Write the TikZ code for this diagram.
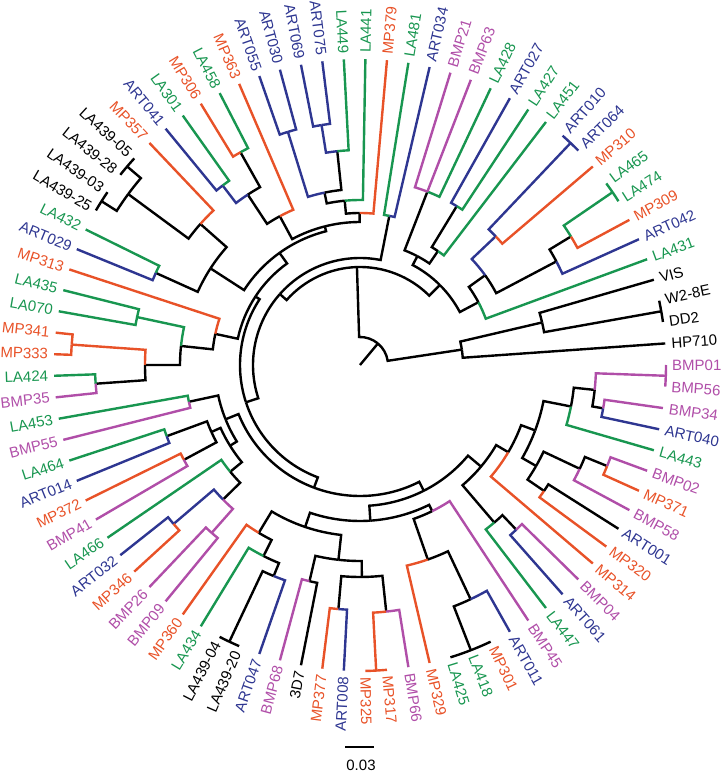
\documentclass[tikz,border=0pt]{standalone}
\usepackage{fontspec}
\setmainfont{Liberation Sans}
\usepackage{tikz}
\usetikzlibrary{positioning}

\definecolor{grn}{RGB}{24,150,80}
\definecolor{org}{RGB}{232,82,40}
\definecolor{blu}{RGB}{46,54,145}
\definecolor{pur}{RGB}{176,78,168}

% branch: [colour]{node radius}{node angle}{child angle}{child radius}
\newcommand\br[5][black]{\draw[#1] (#3:#2 pt) arc[start angle=#3, end angle=#4, radius=#2 pt] -- (#4:#5 pt);}
% bar joining identical tips
\newcommand\tie[3][black]{\draw[#1] (#2:306pt) arc[start angle=#2, end angle=#3, radius=306pt];}

\tikzset{
  lab/.style={font=\fontsize{15}{17}\selectfont, inner sep=1pt},
  tree/.style={line width=2.4pt}
}

\begin{document}
\begin{tikzpicture}[x=1pt, y=1pt]
    \useasboundingbox (-360,-414) rectangle (362,365);

    % Tip labels
    \foreach \i/\nm/\cl in {0/BMP01/pur, 1/HP710/black, 2/DD2/black, 3/W2-8E/black, 4/VIS/black,
        5/LA431/grn, 6/ART042/blu, 7/MP309/org, 8/LA474/grn, 9/LA465/grn, 10/MP310/org,
        11/ART064/blu, 12/ART010/blu, 13/LA451/grn, 14/LA427/grn, 15/ART027/blu, 16/LA428/grn,
        17/BMP63/pur, 18/BMP21/pur, 19/ART034/blu, 20/LA481/grn, 21/MP379/org, 22/LA441/grn,
        23/LA449/grn, 24/ART075/blu, 25/ART069/blu, 26/ART030/blu, 27/ART055/blu, 28/MP363/org,
        29/LA458/grn, 30/MP306/org, 31/LA301/grn, 32/ART041/blu, 33/MP357/org, 34/LA439-05/black,
        35/LA439-28/black, 36/LA439-03/black, 37/LA439-25/black, 38/LA432/grn, 39/ART029/blu,
        40/MP313/org, 41/LA435/grn, 42/LA070/grn, 43/MP341/org, 44/MP333/org, 45/LA424/grn,
        46/BMP35/pur, 47/LA453/grn, 48/BMP55/pur, 49/LA464/grn, 50/ART014/blu, 51/MP372/org,
        52/BMP41/pur, 53/LA466/grn, 54/ART032/blu, 55/MP346/org, 56/BMP26/pur, 57/BMP09/pur,
        58/MP360/org, 59/LA434/grn, 60/LA439-04/black, 61/LA439-20/black, 62/ART047/blu,
        63/BMP68/pur, 64/3D7/black, 65/MP377/org, 66/ART008/blu, 67/MP325/org, 68/MP317/org,
        69/BMP66/pur, 70/MP329/org, 71/LA425/grn, 72/LA418/grn, 73/MP301/org, 74/ART011/blu,
        75/BMP45/pur, 76/LA447/grn, 77/ART061/blu, 78/BMP04/pur, 79/MP314/org, 80/MP320/org,
        81/ART001/blu, 82/BMP58/pur, 83/MP371/org, 84/BMP02/pur, 85/LA443/grn, 86/ART040/blu,
        87/BMP34/pur, 88/BMP56/pur} {
        \pgfmathsetmacro\ang{\i*4.0449}
        \pgfmathtruncatemacro\flip{(\ang>90)&&(\ang<270)}
        \ifnum\flip=1
            \node[lab, text=\cl, rotate=\ang-180, anchor=east] (\nm) at (\ang:311pt) {\nm};
        \else
            \node[lab, text=\cl, rotate=\ang, anchor=west] (\nm) at (\ang:311pt) {\nm};
        \fi
    }

    \begin{scope}[tree]
    % Root
    \draw (0,0) -- (50.2:28pt);
    \br{28}{50.2}{8.6}{103}
    \br{28}{50.2}{91.78}{98}
    % HP710, VIS, W2-8E, DD2
    \br{103}{8.6}{4.04}{306}
    \br{103}{8.6}{13.15}{187}
    \br{187}{13.15}{16.18}{306}
    \br{187}{13.15}{10.11}{306}
    \tie{8.09}{12.13}
    % Main split
    \br{98}{91.78}{45.07}{113}
    \br{98}{91.78}{138.49}{107}
    % Upper right clade
    \br{113}{45.07}{27.94}{134}
    \br{113}{45.07}{62.19}{123}
    \br[grn]{134}{27.94}{20.22}{306}
    \br{134}{27.94}{35.65}{154}
    \br{154}{35.65}{27.81}{222}
    \br[blu]{154}{35.65}{43.48}{187}
    \br[blu]{222}{27.81}{24.27}{306}
    \br{222}{27.81}{31.35}{247}
    \br[org]{247}{31.35}{28.31}{306}
    \br[grn]{247}{31.35}{34.38}{306}
    \tie[grn]{32.36}{36.40}
    \br[org]{187}{43.48}{40.45}{306}
    \br[blu]{187}{43.48}{46.51}{306}
    \tie[blu]{44.49}{48.54}
    \br{123}{62.19}{55.62}{138}
    \br{123}{62.19}{68.76}{186}
    \br[grn]{138}{55.62}{52.58}{306}
    \br{138}{55.62}{58.65}{186}
    \br[grn]{186}{58.65}{56.63}{306}
    \br[blu]{186}{58.65}{60.67}{306}
    \br[grn]{186}{68.76}{64.72}{306}
    \br[pur]{186}{68.76}{68.76}{306}
    \br[pur]{186}{68.76}{72.81}{306}
    % Large clade
    \br{107}{138.49}{78.88}{152}
    \br{107}{138.49}{198.1}{120}
    \br[blu]{152}{78.88}{76.85}{306}
    \br[grn]{152}{78.88}{80.90}{306}
    \br{120}{198.1}{146.77}{125}
    \br{120}{198.1}{249.44}{131}
    \br{125}{146.77}{125.68}{138}
    \br{125}{146.77}{167.87}{148}
    \br{138}{125.68}{104.22}{143}
    \br{138}{125.68}{147.13}{178}
    % Top ladder
    \br{143}{104.22}{90.13}{152}
    \br{143}{104.22}{118.32}{169}
    \br[org]{152}{90.13}{84.94}{306}
    \br{152}{90.13}{95.31}{165}
    \br[grn]{165}{95.31}{88.99}{306}
    \br{165}{95.31}{101.63}{176}
    \br{176}{101.63}{96.07}{215}
    \br[blu]{176}{101.63}{107.19}{244}
    \br[grn]{215}{96.07}{93.03}{306}
    \br[blu]{215}{96.07}{99.10}{243}
    \br[blu]{243}{99.10}{97.08}{306}
    \br[blu]{243}{99.10}{101.12}{306}
    \br[blu]{244}{107.19}{105.17}{306}
    \br[blu]{244}{107.19}{109.21}{306}
    \br[org]{169}{118.32}{113.26}{306}
    \br{169}{118.32}{123.37}{204}
    \br{204}{123.37}{119.33}{244}
    \br[blu]{204}{123.37}{127.42}{226}
    \br[grn]{244}{119.33}{117.30}{306}
    \br[org]{244}{119.33}{121.35}{306}
    \br[grn]{226}{127.42}{125.39}{306}
    \br[blu]{226}{127.42}{129.44}{306}
    % Upper left
    \br{178}{147.13}{138.54}{213}
    \br{178}{147.13}{155.73}{224}
    \br[org]{213}{138.54}{133.48}{306}
    \br{213}{138.54}{143.60}{288}
    \br{288}{143.60}{139.55}{306}
    \tie{137.53}{141.57}
    \br{288}{143.60}{147.64}{306}
    \tie{145.62}{149.66}
    \br[grn]{224}{155.73}{153.71}{306}
    \br[blu]{224}{155.73}{157.75}{306}
    % Left
    \br[org]{148}{167.87}{161.80}{306}
    \br{148}{167.87}{173.93}{180}
    \br[grn]{180}{173.93}{167.87}{228}
    \br{180}{173.93}{180}{215}
    \br[grn]{228}{167.87}{165.84}{306}
    \br[grn]{228}{167.87}{169.89}{306}
    \br[org]{215}{180}{175.95}{289}
    \br{215}{180}{184.05}{265}
    \br[org]{289}{175.95}{173.93}{306}
    \br[org]{289}{175.95}{177.98}{306}
    \br[grn]{265}{184.05}{182.02}{306}
    \br[pur]{265}{184.05}{186.07}{306}
    % Lower left
    \br{131}{249.44}{201.99}{145}
    \br{131}{249.44}{296.9}{141}
    \br{145}{201.99}{192.13}{175}
    \br{145}{201.99}{211.85}{153}
    \br[grn]{175}{192.13}{190.11}{306}
    \br[pur]{175}{192.13}{194.16}{306}
    \br{153}{211.85}{204.27}{163}
    \br{153}{211.85}{219.44}{168}
    \br{163}{204.27}{200.22}{206}
    \br{163}{204.27}{208.31}{200}
    \br[grn]{206}{200.22}{198.20}{306}
    \br[blu]{206}{200.22}{202.25}{306}
    \br[org]{200}{208.31}{206.29}{306}
    \br[pur]{200}{208.31}{210.34}{306}
    \br[grn]{168}{219.44}{214.38}{306}
    \br{168}{219.44}{224.49}{192}
    \br[blu]{192}{224.49}{220.45}{245}
    \br[pur]{192}{224.49}{228.54}{224}
    \br[blu]{245}{220.45}{218.43}{306}
    \br[org]{245}{220.45}{222.47}{306}
    \br[pur]{224}{228.54}{226.52}{306}
    \br[pur]{224}{228.54}{230.56}{306}
    % Bottom
    \br{141}{296.9}{273.8}{156}
    \br{141}{296.9}{319.99}{158}
    \br{156}{273.8}{251.29}{171}
    \br{156}{273.8}{296.3}{163}
    \br{171}{251.29}{238.9}{196}
    \br{171}{251.29}{263.68}{196}
    \br[org]{196}{238.9}{234.61}{306}
    \br{196}{238.9}{243.2}{214}
    \br[grn]{214}{243.2}{238.65}{306}
    \br{214}{243.2}{247.75}{228}
    \br{228}{247.75}{244.72}{306}
    \tie{242.70}{246.74}
    \br[blu]{228}{247.75}{250.79}{306}
    \br{196}{263.68}{256.85}{222}
    \br{196}{263.68}{270.5}{212}
    \br[pur]{222}{256.85}{254.83}{306}
    \br{222}{256.85}{258.88}{306}
    \br{212}{270.5}{264.94}{245}
    \br{212}{270.5}{276.07}{248}
    \br[org]{245}{264.94}{262.92}{306}
    \br[blu]{245}{264.94}{266.97}{306}
    \br[org]{248}{276.07}{273.03}{306}
    \tie[org]{271.01}{275.06}
    \br[pur]{248}{276.07}{279.10}{306}
    \br{163}{296.3}{289.22}{206}
    \br[pur]{163}{296.3}{303.37}{306}
    \br[org]{206}{289.22}{283.15}{306}
    \br{206}{289.22}{295.28}{259}
    \br{259}{295.28}{291.24}{306}
    \tie{287.19}{295.28}
    \br[blu]{259}{295.28}{299.33}{306}
    % Lower right
    \br{158}{319.99}{310.45}{207}
    \br{158}{319.99}{329.54}{172}
    \br[grn]{207}{310.45}{307.42}{306}
    \br{207}{310.45}{313.49}{227}
    \br[blu]{227}{313.49}{311.46}{306}
    \br[pur]{227}{313.49}{315.51}{306}
    \br[org]{172}{329.54}{319.55}{306}
    \br{172}{329.54}{339.52}{187}
    \br{187}{339.52}{330.17}{203}
    \br{187}{339.52}{348.88}{215}
    \br{203}{330.17}{325.62}{223}
    \br{203}{330.17}{334.72}{243}
    \br[org]{223}{325.62}{323.60}{306}
    \br{223}{325.62}{327.64}{306}
    \br[pur]{243}{334.72}{331.69}{306}
    \br{243}{334.72}{337.76}{267}
    \br[org]{267}{337.76}{335.73}{306}
    \br[pur]{267}{337.76}{339.78}{306}
    \br[grn]{215}{348.88}{343.82}{306}
    \br{215}{348.88}{353.94}{236}
    \br{236}{353.94}{349.89}{247}
    \br[pur]{236}{353.94}{357.98}{306}
    \tie[pur]{355.96}{360}
    \br[blu]{247}{349.89}{347.87}{306}
    \br[pur]{247}{349.89}{351.91}{306}
    \end{scope}

    % Scale bar
    \coordinate (sbL) at (-14.5,-382);
    \coordinate (sbR) at (14.5,-382);
    \draw[line width=2.4pt] (sbL) -- (sbR);
    \node[lab] (sbT) at (1,-400) {0.03};
\end{tikzpicture}
\end{document}
